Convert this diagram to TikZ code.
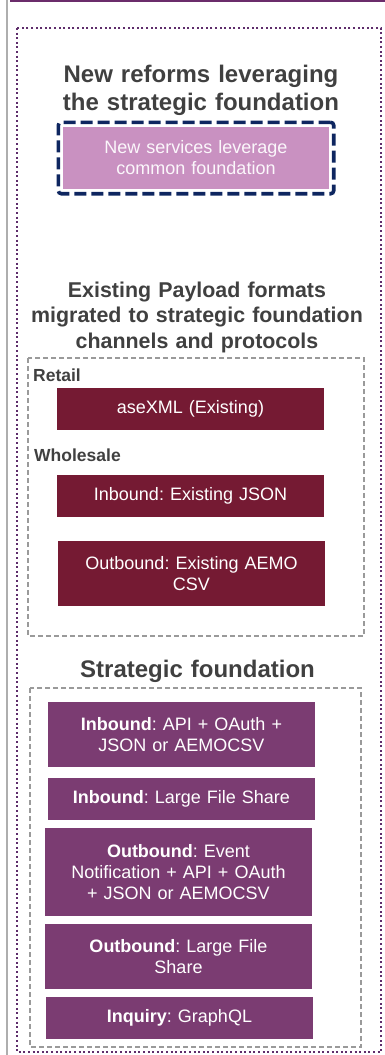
\documentclass[tikz,border=0pt]{standalone}
\usepackage{fontspec}
\setmainfont{Liberation Sans}
\usetikzlibrary{fit}
\frenchspacing
\definecolor{titlegray}{HTML}{404040}
\definecolor{maroon}{HTML}{751A33}
\definecolor{plum}{HTML}{7B3C72}
\definecolor{pinkfill}{HTML}{C991C1}
\definecolor{navy}{HTML}{0E2660}
\definecolor{dotpurple}{HTML}{5E2D6B}
\definecolor{framegray}{HTML}{9A9A9A}
\definecolor{topline}{HTML}{6B2C6B}
\tikzset{
  x=1pt, y=-1pt,
  titletext/.style={text=titlegray, font={\frenchspacing\bfseries\fontsize{24}{28}\selectfont}, align=center, text width=340pt, inner sep=0pt, anchor=base},
  subtitle/.style={text=titlegray, font={\frenchspacing\bfseries\fontsize{21.4}{25.5}\selectfont}, align=center, text width=350pt, inner sep=0pt, anchor=base},
  grouplabel/.style={text=titlegray, font={\bfseries\fontsize{17.5}{21}\selectfont}, inner sep=0pt, anchor=base west},
  boxbase/.style={text=white, font={\frenchspacing\fontsize{18}{21}\selectfont}, align=center, inner xsep=4pt, inner ysep=0pt, anchor=center},
  oldbox/.style={boxbase, fill=maroon, minimum width=267pt, text width=259pt},
  newbox/.style={boxbase, fill=plum, minimum width=267pt, text width=259pt},
  graybox/.style={draw=framegray, line width=1.2pt, dash pattern=on 5pt off 3pt},
}
\begin{document}
\begin{tikzpicture}
\useasboundingbox (0,0) rectangle (385,1055);
% outer decorations
\draw[line width=2.5pt, color=framegray!80] (7,0) -- (7,1055);
\draw[line width=2.5pt, color=topline] (10,1) -- (385,1);
\draw[line width=2pt, color=dotpurple, dash pattern=on 2pt off 2.6pt] (17,28) rectangle (381,1052);

% section 1
\node[titletext] (t1) at (201,82) {New reforms leveraging\\the strategic foundation};
\node[boxbase, fill=pinkfill, text=white!93!pinkfill, minimum width=266pt, minimum height=62pt, text width=258pt] (pink) at (196,158) {New services leverage\\common foundation};
\node[fit=(pink), inner sep=4.5pt, draw=navy, line width=3.6pt, dash pattern=on 12pt off 5pt, rounded corners=3pt] (pinkframe) {};

% section 2
\node[subtitle] (t2) at (197,297) {Existing Payload formats\\migrated to strategic foundation\\channels and protocols};
\draw[graybox] (28,358) rectangle (364,636);
\node[grouplabel] (retail) at (33,381) {Retail};
\node[oldbox, minimum height=42pt] (ase) at (190.5,409) {aseXML (Existing)};
\node[grouplabel] (whole) at (34,461) {Wholesale};
\node[oldbox, minimum height=42pt] (json) at (190.5,496) {Inbound: Existing JSON};
\node[oldbox, minimum height=65pt] (csv) at (191.5,573.5) {Outbound: Existing AEMO\\CSV};

% section 3
\node[titletext] (t3) at (197.5,677) {Strategic foundation};
\draw[graybox] (30,688) rectangle (361,1047);
\node[newbox, minimum height=65pt] (p1) at (181.5,734.5) {\textbf{Inbound}: API + OAuth +\\JSON or AEMOCSV};
\node[newbox, minimum height=42pt] (p2) at (181.5,799) {\textbf{Inbound}: Large File Share};
\node[newbox, minimum height=88pt] (p3) at (178.5,872) {\textbf{Outbound}: Event\\Notification + API + OAuth\\+ JSON or AEMOCSV};
\node[newbox, minimum height=65pt] (p4) at (178.5,956.5) {\textbf{Outbound}: Large File\\Share};
\node[newbox, minimum height=42pt] (p5) at (179.5,1018) {\textbf{Inquiry}: GraphQL};
\end{tikzpicture}
\end{document}
